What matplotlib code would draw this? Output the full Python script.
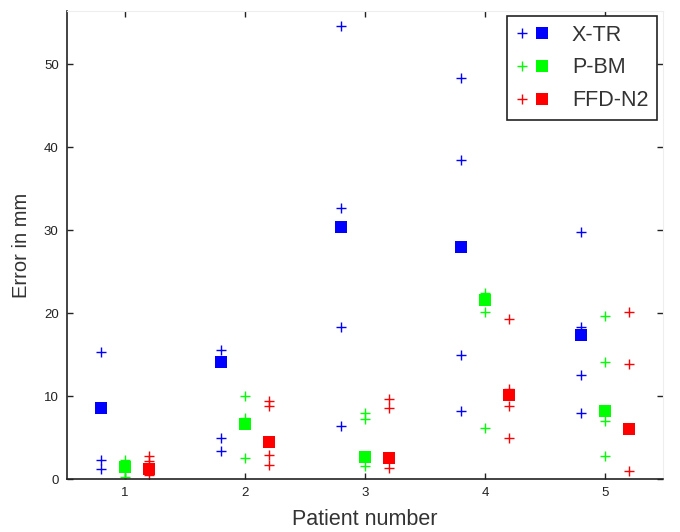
import matplotlib
matplotlib.use("Agg")
import matplotlib.pyplot as plt
from matplotlib.legend_handler import HandlerTuple

plt.rcParams['font.family'] = ['Liberation Sans', 'DejaVu Sans']

# ======== data =====================================
patients = [1, 2, 3, 4, 5]
methods = ['X-TR', 'P-BM', 'FFD-N2']
colors = ['#0000ff', '#00ff00', '#ff0000']
offsets = [-0.2, 0.0, 0.2]

# single errors (plus markers) per patient
xtr_points = [[15.3, 2.3, 1.2], [15.6, 4.9, 3.4], [54.6, 32.7, 18.3, 6.4],
              [48.3, 38.5, 14.9, 8.2], [29.8, 18.3, 12.5, 7.9]]
pbm_points = [[2.3, 1.0, 0.3], [10.0, 7.3, 2.5], [7.9, 7.2, 1.6],
              [22.4, 20.1, 6.2], [19.6, 14.1, 7.0, 2.8]]
ffd_points = [[2.8, 2.2, 0.5], [9.4, 8.8, 2.9, 1.7], [9.6, 8.5, 1.3],
              [19.3, 10.9, 8.8, 5.0], [20.1, 13.9, 1.0]]

# mean errors (square markers) per patient
xtr_mean = [8.5, 14.1, 30.4, 27.9, 17.3]
pbm_mean = [1.4, 6.6, 2.7, 21.6, 8.2]
ffd_mean = [1.2, 4.5, 2.5, 10.1, 6.0]

all_points = [xtr_points, pbm_points, ffd_points]
all_means = [xtr_mean, pbm_mean, ffd_mean]

fig = plt.figure(figsize=(6.8, 5.32), dpi=100)
ax = fig.add_axes([67 / 680, 1 - 479 / 532, (662.6 - 67) / 680, (479 - 11) / 532])

handles = []
for pts, means, col, off in zip(all_points, all_means, colors, offsets):
    xs = []
    ys = []
    for p, vals in zip(patients, pts):
        xs += [p + off] * len(vals)
        ys += vals
    hp, = ax.plot(xs, ys, linestyle='none', marker='+', color=col,
                  markersize=7, markeredgewidth=1.0)
    hs, = ax.plot([p + off for p in patients], means, linestyle='none',
                  marker='s', color=col, markersize=9, markeredgewidth=0)
    handles.append((hp, hs))

ax.set_xlim(0.517, 5.48)
ax.set_ylim(0, 56.4)
ax.set_xticks(patients)
ax.set_yticks([0, 10, 20, 30, 40, 50])
ax.tick_params(direction='in', length=4, width=1, top=True, right=True,
               labelsize=9.5, pad=6, colors='#222222')
for s in ['left', 'bottom']:
    ax.spines[s].set_color('#222222')
    ax.spines[s].set_linewidth(1.2)
for s in ['top', 'right']:
    ax.spines[s].set_color('#eeeeee')
    ax.spines[s].set_linewidth(0.8)

ax.set_xlabel('Patient number', fontsize=15.5, color='#333333', labelpad=7)
ax.set_ylabel('Error in mm', fontsize=14.5, color='#333333', labelpad=9)

leg = ax.legend(handles, methods, handler_map={tuple: HandlerTuple(ndivide=None, pad=0.3)},
                loc='upper right', bbox_to_anchor=(657 / 680, 1 - 16 / 532),
                bbox_transform=fig.transFigure, borderaxespad=0,
                fontsize=15.5, handlelength=1.5, handletextpad=1.1,
                labelspacing=0.55, borderpad=0.4, fancybox=False, framealpha=1)
leg.get_frame().set_edgecolor('#222222')
leg.get_frame().set_linewidth(1.2)
for t in leg.get_texts():
    t.set_color('#333333')

fig.savefig('out.png', dpi=100)
